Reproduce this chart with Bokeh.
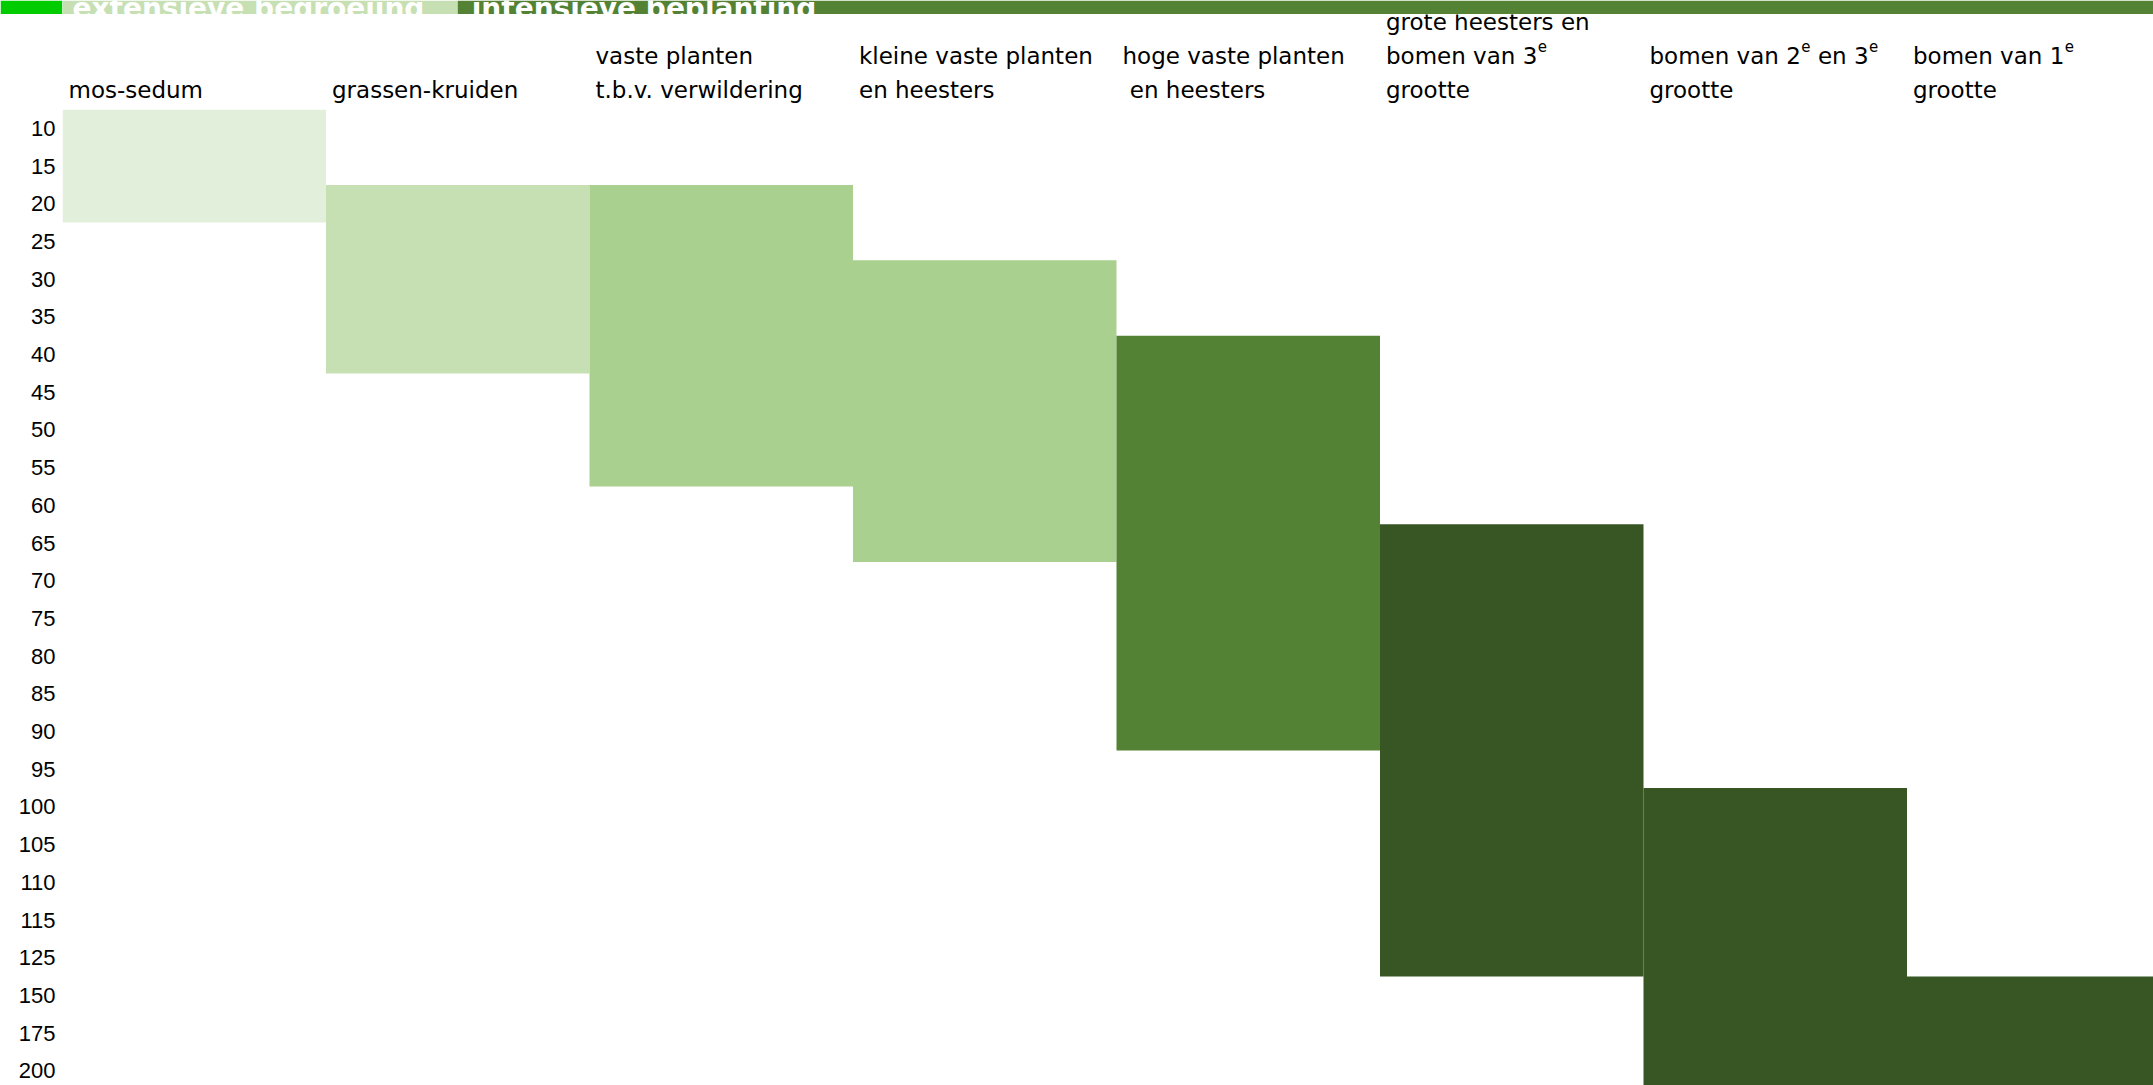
from bokeh.plotting import figure
from bokeh.models import Range1d, FixedTicker, ColumnDataSource
from bokeh.layouts import column
from bokeh.embed import file_html
from bokeh.resources import INLINE
from bokeh.core.properties import value

# ---------------- data ----------------
levels = ["10", "15", "20", "25", "30", "35", "40", "45", "50", "55", "60", "65",
          "70", "75", "80", "85", "90", "95", "100", "105", "110", "115", "125",
          "150", "175", "200"]

categories = ["mos-sedum", "grassen-kruiden",
              "vaste planten t.b.v. verwildering",
              "kleine vaste planten en heesters",
              "hoge vaste planten en heesters",
              "grote heesters en bomen van 3e grootte",
              "bomen van 2e en 3e grootte",
              "bomen van 1e grootte"]

# header text lines per category ("^e" = superscript e)
header_lines = [
    ["mos-sedum"],
    ["grassen-kruiden"],
    ["vaste planten", "t.b.v. verwildering"],
    ["kleine vaste planten", "en heesters"],
    ["hoge vaste planten", " en heesters"],
    ["grote heesters en", "bomen van 3^e", "grootte"],
    ["bomen van 2^e en 3^e", "grootte"],
    ["bomen van 1^e", "grootte"],
]

range_from = ["10", "20", "20", "30", "40", "65", "100", "150"]
range_to = ["20", "40", "55", "65", "90", "125", "200", "200"]

groups = ["extensieve begroeiing", "intensieve beplanting"]

# ---------------- styles ----------------
palette = ["#E2EFDA", "#C6E0B4", "#A9D08E", "#A9D08E",
           "#548235", "#375623", "#375623", "#375623"]
group_colors = ["#C6E0B4", "#548235"]
corner_color = "#00CC00"

W_TOTAL = 2153
BANNER_H = 14
HEAD_BOTTOM = 109
TOTAL_H = 1085
LEFT = 62
COL_W = 263.5
ROW_H = 37.7

x_hi = (W_TOTAL - LEFT) / COL_W

# DejaVu Sans advance widths (em)
ADV = {" ": .318, "a": .613, "b": .635, "d": .635, "e": .615, "g": .635, "h": .634,
       "i": .278, "k": .579, "l": .278, "m": .974, "n": .634, "o": .612, "p": .635,
       "r": .411, "s": .521, "t": .392, "u": .634, "v": .592, "w": .818, "1": .636,
       "2": .636, "3": .636, ".": .318, "-": .361}


def tw(s, size):
    return sum(ADV.get(c, 0.6) for c in s) * size


MAIN_FS = 23
SUP_FS = 15
LINE_GAP = 34
BOTTOM_BASE = 89
SUP_RAISE = 10
PAD = 6


def base_fig(h, y_range, border):
    f = figure(width=W_TOTAL, height=h, output_backend="svg", toolbar_location=None,
               x_range=Range1d(0, x_hi), y_range=y_range,
               x_axis_location=None, y_axis_location=None,
               min_border=0, min_border_left=LEFT,
               outline_line_color=None, background_fill_color="white",
               border_fill_color=border)
    f.xgrid.visible = False
    f.ygrid.visible = False
    return f


# ---------------- banner ----------------
banner = base_fig(BANNER_H, Range1d(BANNER_H, 0), corner_color)
gb = [0, 1.5, len(categories) + 1]
banner.quad(left=gb[:-1], right=gb[1:], top=[0, 0], bottom=[BANNER_H, BANNER_H],
            color=group_colors, line_color=None)
banner.text(x=gb[:-1], y=[7.5, 7.5], text=groups, x_offset=[10, 14],
            text_font=value("DejaVu Sans"), text_font_style="bold", text_font_size="28px",
            text_color="white", text_baseline="alphabetic", text_align="left")

# ---------------- headers ----------------
head = base_fig(HEAD_BOTTOM - BANNER_H, Range1d(HEAD_BOTTOM, BANNER_H), "white")

mx, my, mt, mo = [], [], [], []
sx, sy, st, so = [], [], [], []
for i, lines in enumerate(header_lines):
    n = len(lines)
    for j, line in enumerate(lines):
        base = BOTTOM_BASE - LINE_GAP * (n - 1 - j)
        parts = line.split("^e")
        off = PAD
        for k, part in enumerate(parts):
            stripped = part.lstrip(" ")
            off += tw(part[:len(part) - len(stripped)], MAIN_FS)
            if stripped:
                mx.append(i); my.append(base); mt.append(stripped); mo.append(off)
                off += tw(stripped, MAIN_FS)
            if k < len(parts) - 1:
                sx.append(i); sy.append(base - SUP_RAISE); st.append("e"); so.append(off + 0.5)
                off += tw("e", SUP_FS) + 0.5

head.text(x="x", y="y", text="t", x_offset="o",
          source=ColumnDataSource(dict(x=mx, y=my, t=mt, o=mo)),
          text_font=value("DejaVu Sans"), text_font_size=f"{MAIN_FS}px",
          text_color="black", text_baseline="alphabetic", text_align="left")
head.text(x="x", y="y", text="t", x_offset="o",
          source=ColumnDataSource(dict(x=sx, y=sy, t=st, o=so)),
          text_font=value("DejaVu Sans"), text_font_size=f"{SUP_FS}px",
          text_color="black", text_baseline="alphabetic", text_align="left")

# ---------------- blocks ----------------
BOT_H = TOTAL_H - HEAD_BOTTOM
n_rows_visible = BOT_H / ROW_H
bot = figure(width=W_TOTAL, height=BOT_H, output_backend="svg", toolbar_location=None,
             x_range=Range1d(0, x_hi), y_range=Range1d(-0.5 + n_rows_visible, -0.5),
             x_axis_location=None, y_axis_location="left",
             min_border=0, min_border_left=LEFT,
             outline_line_color=None, background_fill_color="white",
             border_fill_color="white")
bot.xgrid.visible = False
bot.ygrid.visible = False

idx = list(range(len(categories)))
src = ColumnDataSource(dict(
    left=idx,
    right=[i + 1 for i in idx],
    top=[levels.index(a) - 0.5 for a in range_from],
    bottom=[levels.index(b) + 0.5 for b in range_to],
    color=palette,
    name=categories,
))
bot.quad(left="left", right="right", top="top", bottom="bottom",
         fill_color="color", line_color=None, source=src)

yax = bot.yaxis[0]
yax.ticker = FixedTicker(ticks=list(range(len(levels))))
yax.major_label_overrides = {i: lv for i, lv in enumerate(levels)}
yax.major_label_text_font = "Liberation Sans"
yax.major_label_text_font_size = "22px"
yax.major_label_text_color = "black"
yax.major_label_standoff = 1
yax.major_tick_line_color = None
yax.minor_tick_line_color = None
yax.axis_line_color = None

p = column(banner, head, bot, spacing=0)
open("out.html", "w").write(file_html(p, INLINE))
